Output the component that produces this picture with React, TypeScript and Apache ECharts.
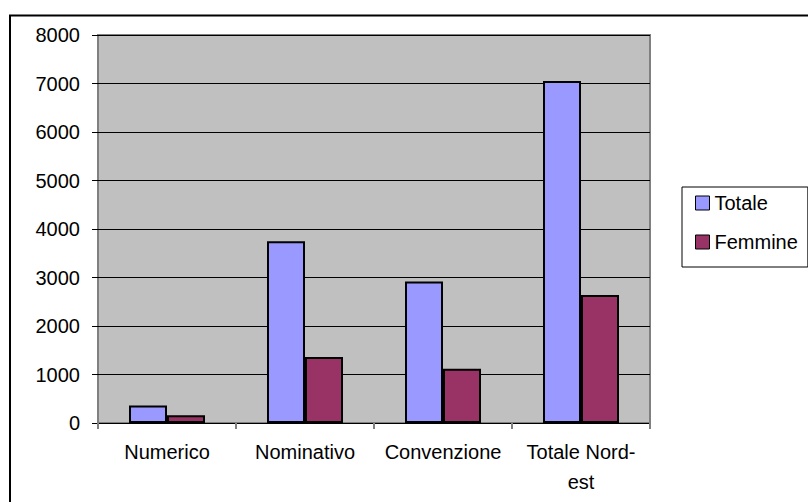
import React, { useEffect, useRef } from "react";
import * as echarts from "echarts";

const categories = ["Numerico", "Nominativo", "Convenzione", "Totale Nord-est"];
const totale = [360, 3750, 2920, 7050];
const femmine = [160, 1360, 1120, 2640];
const yTicks = { min: 0, max: 8000, interval: 1000 };

export default function App() {
  const ref = useRef<HTMLDivElement>(null);
  useEffect(() => {
    if (!ref.current) return;
    const chart = echarts.init(ref.current, null, { renderer: "svg" });
    const font = "'Liberation Sans', Arial, sans-serif";
    chart.setOption({
      animation: false,
      backgroundColor: "#ffffff",
      textStyle: { fontFamily: font, color: "#000" },
      grid: {
        left: 98,
        top: 35,
        width: 552,
        height: 388,
        show: true,
        backgroundColor: "#C0C0C0",
        borderColor: "#808080",
        borderWidth: 2,
      },
      legend: {
        orient: "vertical",
        left: 682,
        top: 187,
        borderColor: "#000",
        borderWidth: 1,
        padding: [6, 10, 15, 13],
        itemGap: 19,
        itemWidth: 14,
        itemHeight: 14,
        icon: "rect",
        itemStyle: { borderColor: "#000", borderWidth: 1 },
        textStyle: { fontFamily: font, fontSize: 20, lineHeight: 20, color: "#000" },
        data: ["Totale", "Femmine"],
      },
      xAxis: {
        type: "category",
        data: categories,
        axisLine: { show: false },
        axisTick: { show: true, length: 6, lineStyle: { color: "#808080", width: 2 } },
        axisLabel: {
          fontFamily: font,
          fontSize: 20,
          lineHeight: 30,
          color: "#000",
          margin: 14,
          interval: 0,
          formatter: (v: string) => v.replace("Nord-", "Nord-\n"),
        },
      },
      yAxis: {
        type: "value",
        min: yTicks.min,
        max: yTicks.max,
        interval: yTicks.interval,
        axisLine: { show: false },
        axisTick: { show: true, length: 6, lineStyle: { color: "#000", width: 1 } },
        axisLabel: {
          fontFamily: font,
          fontSize: 20,
          color: "#000",
          margin: 18,
          formatter: (v: number) => String(v),
        },
        splitLine: { show: true, lineStyle: { color: "#000", width: 1 } },
      },
      series: [
        {
          name: "Totale",
          type: "bar",
          data: totale,
          barWidth: 38,
          barGap: "0%",
          itemStyle: { color: "#9999FF", borderColor: "#000", borderWidth: 2 },
        },
        {
          name: "Femmine",
          type: "bar",
          data: femmine,
          barWidth: 38,
          barGap: "0%",
          itemStyle: { color: "#993366", borderColor: "#000", borderWidth: 2 },
        },
      ],
      graphic: [
        {
          type: "rect",
          shape: { x: 10, y: 15.5, width: 820, height: 520 },
          style: { fill: "none", stroke: "#000", lineWidth: 2 },
          silent: true,
        },
      ],
    });
    return () => chart.dispose();
  }, []);
  return (
    <div
      ref={ref}
      style={{ position: "absolute", left: 0, top: 0, width: 808, height: 502 }}
    />
  );
}
